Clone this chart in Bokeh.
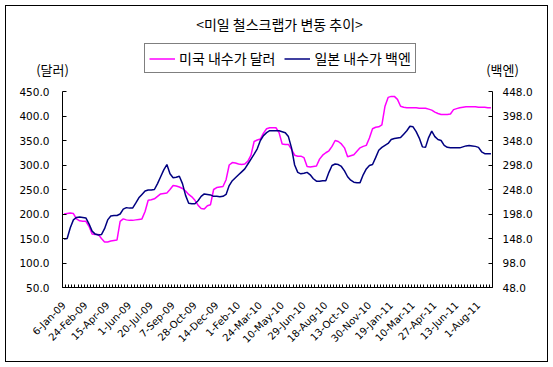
import math
from bokeh.plotting import figure
from bokeh.layouts import column
from bokeh.models import (Range1d, LinearAxis, FixedTicker, NumeralTickFormatter,
                          Legend, LegendItem, ColumnDataSource)
from bokeh.core.properties import value
from bokeh.embed import file_html
from bokeh.resources import INLINE

# ---------------- data ----------------
chart_title = "<미일 철스크랩가 변동 추이>"
us_name = "미국 내수가 달러"
jp_name = "일본 내수가 백엔"
left_unit = "(달러)"
right_unit = "(백엔)"

tick_labels = ["6-Jan-09", "24-Feb-09", "15-Apr-09", "1-Jun-09", "20-Jul-09",
               "7-Sep-09", "28-Oct-09", "14-Dec-09", "1-Feb-10", "24-Mar-10",
               "10-May-10", "29-Jun-10", "18-Aug-10", "13-Oct-10", "30-Nov-10",
               "19-Jan-11", "10-Mar-11", "27-Apr-11", "13-Jun-11", "1-Aug-11"]
label_step = 7  # one label every 7 weekly observations

us_usd = [200, 201, 202, 201, 190, 186, 185, 185, 175, 159,
          158, 158, 150, 143, 143, 145, 146, 147, 185, 190,
          188, 187, 187, 188, 189, 190, 205, 228, 229, 231,
          236, 241, 242, 243, 250, 258, 257, 255, 252, 247,
          240, 235, 228, 218, 211, 210, 217, 219, 250, 254,
          255, 256, 270, 300, 305, 304, 302, 301, 302, 308,
          320, 348, 351, 353, 365, 374, 376, 376, 376, 366,
          343, 342, 342, 332, 320, 318, 318, 315, 297, 296,
          297, 298, 312, 320, 325, 329, 338, 350, 348, 343,
          335, 317, 319, 321, 328, 335, 338, 340, 355, 374,
          377, 378, 382, 420, 438, 440, 440, 434, 420, 418,
          417, 417, 417, 417, 416, 416, 416, 414, 412, 408,
          405, 403, 403, 403, 404, 413, 415, 417, 418, 419,
          419, 419, 419, 418, 418, 418, 417, 417]

jp_yen = [147, 148, 170, 186, 191, 192, 191, 190, 178, 163,
          157, 155, 156, 168, 186, 194, 195, 195, 198, 208,
          211, 210, 210, 220, 231, 238, 245, 247, 247, 248,
          260, 274, 288, 299, 280, 272, 273, 275, 260, 236,
          220, 219, 219, 225, 234, 239, 238, 237, 234, 234,
          233, 234, 238, 256, 266, 272, 278, 284, 290, 300,
          310, 320, 331, 348, 358, 364, 368, 368, 368, 368,
          366, 364, 356, 333, 298, 283, 280, 281, 283, 278,
          270, 265, 265, 266, 266, 283, 297, 300, 299, 295,
          286, 274, 267, 263, 262, 262, 278, 290, 297, 299,
          313, 328, 334, 338, 342, 350, 352, 353, 354, 361,
          368, 377, 376, 366, 353, 335, 334, 354, 367, 356,
          350, 348, 338, 334, 333, 333, 333, 333, 335, 337,
          338, 337, 336, 334, 325, 321, 321, 321]

left_ticks = [50, 100, 150, 200, 250, 300, 350, 400, 450]
right_ticks = [48, 98, 148, 198, 248, 298, 348, 398, 448]

US_COLOR = "#FF00FF"
JP_COLOR = "#000080"
num_font = "DejaVu Sans"
kr_font = "Noto Sans CJK KR"

# page geometry: content box starts at (6, 6) and ends at (547, 361)
X0, Y0 = 6, 6
W = 541
HDR_BOTTOM = 83          # page y where the header ends
HDR_H = HDR_BOTTOM - Y0  # 77
MAIN_H = 361 - HDR_BOTTOM  # 278

# ---------------- header (title, legend, unit captions) ----------------
hdr = figure(width=W, height=HDR_H, output_backend="svg", toolbar_location=None,
             x_range=Range1d(X0, X0 + W), y_range=Range1d(HDR_BOTTOM, Y0),
             x_axis_type=None, y_axis_type=None,
             min_border_left=0, min_border_right=0, min_border_top=0, min_border_bottom=0)
hdr.outline_line_color = None
hdr.background_fill_color = "white"
hdr.border_fill_color = "white"

hdr.text(x=[279], y=[23], text=[chart_title], text_align="center", text_baseline="middle",
         text_font=value(kr_font), text_font_size="14px", text_color="black")
hdr.text(x=[52, 502], y=[69, 69], text=[left_unit, right_unit], text_align="center",
         text_baseline="middle", text_font=value(kr_font), text_font_size="13px",
         text_color="black")

h_us = hdr.line(x=[float("nan")], y=[float("nan")], line_color=US_COLOR, line_width=1.5)
h_jp = hdr.line(x=[float("nan")], y=[float("nan")], line_color=JP_COLOR, line_width=1.5)
legend = Legend(items=[LegendItem(label=us_name, renderers=[h_us]),
                       LegendItem(label=jp_name, renderers=[h_jp])],
                orientation="horizontal", location=(144 - X0, HDR_BOTTOM - 73))
legend.border_line_color = "black"
legend.border_line_width = 1
legend.background_fill_color = "white"
legend.background_fill_alpha = 1
legend.padding = 4
legend.margin = 0
legend.spacing = 9
legend.label_standoff = 4
legend.glyph_width = 26
legend.glyph_height = 17
legend.label_height = 17
legend.label_text_font = kr_font
legend.label_text_font_size = "14px"
legend.label_text_color = "black"
hdr.add_layout(legend)

# ---------------- main chart ----------------
n = len(us_usd)
weeks = list(range(n))
src = ColumnDataSource(dict(week=weeks, us=us_usd, jp=jp_yen))

p = figure(width=W, height=MAIN_H, output_backend="svg", toolbar_location=None,
           x_range=Range1d(-0.5, n - 0.5), y_range=Range1d(left_ticks[0], left_ticks[-1]),
           min_border_left=62 - X0, min_border_right=547 - 492,
           min_border_top=91 - HDR_BOTTOM, min_border_bottom=361 - 287,
           x_axis_type=None)
p.extra_y_ranges = {"yen": Range1d(right_ticks[0], right_ticks[-1])}
p.outline_line_color = None
p.xgrid.visible = False
p.ygrid.visible = False
p.background_fill_color = "white"
p.border_fill_color = "white"

for f in (hdr, p):
    try:
        f.frame_align = False
    except AttributeError:
        pass

# left axis (dollars)
ya = p.yaxis[0]
ya.ticker = FixedTicker(ticks=left_ticks)
ya.formatter = NumeralTickFormatter(format="0.0")
ya.major_tick_in = 4
ya.major_tick_out = 0
ya.minor_tick_line_color = None
ya.major_label_standoff = 13
ya.major_label_text_font = num_font
ya.major_label_text_font_size = "10.5px"
ya.major_label_text_color = "black"
ya.axis_line_color = "black"

# right axis (yen)
ra = LinearAxis(y_range_name="yen", ticker=FixedTicker(ticks=right_ticks),
                formatter=NumeralTickFormatter(format="0.0"))
ra.major_tick_in = 4
ra.major_tick_out = 0
ra.minor_tick_line_color = None
ra.major_label_standoff = 10
ra.major_label_text_font = num_font
ra.major_label_text_font_size = "10.5px"
ra.major_label_text_color = "black"
p.add_layout(ra, "right")

# bottom axis (weekly categories)
label_pos = [i * label_step for i in range(len(tick_labels))]
boundaries = [i - 0.5 for i in range(n + 1)]
xa = LinearAxis(ticker=FixedTicker(ticks=label_pos, minor_ticks=boundaries))
xa.major_label_overrides = {pos: lab for pos, lab in zip(label_pos, tick_labels)}
xa.major_label_orientation = math.pi / 4
xa.major_tick_in = 0
xa.major_tick_out = 0
xa.minor_tick_in = 3
xa.minor_tick_out = 0
xa.major_label_standoff = 16
xa.major_label_text_font = num_font
xa.major_label_text_font_size = "10px"
xa.major_label_text_color = "black"
p.add_layout(xa, "below")

p.line("week", "us", source=src, line_color=US_COLOR, line_width=1.5)
p.line("week", "jp", source=src, line_color=JP_COLOR, line_width=1.5, y_range_name="yen")

layout = column(hdr, p, spacing=0)
layout.styles = {"margin-left": f"{X0}px", "margin-top": f"{Y0}px",
                 "outline": "1px solid black", "outline-offset": "0px"}

open("out.html", "w").write(file_html(layout, INLINE))
